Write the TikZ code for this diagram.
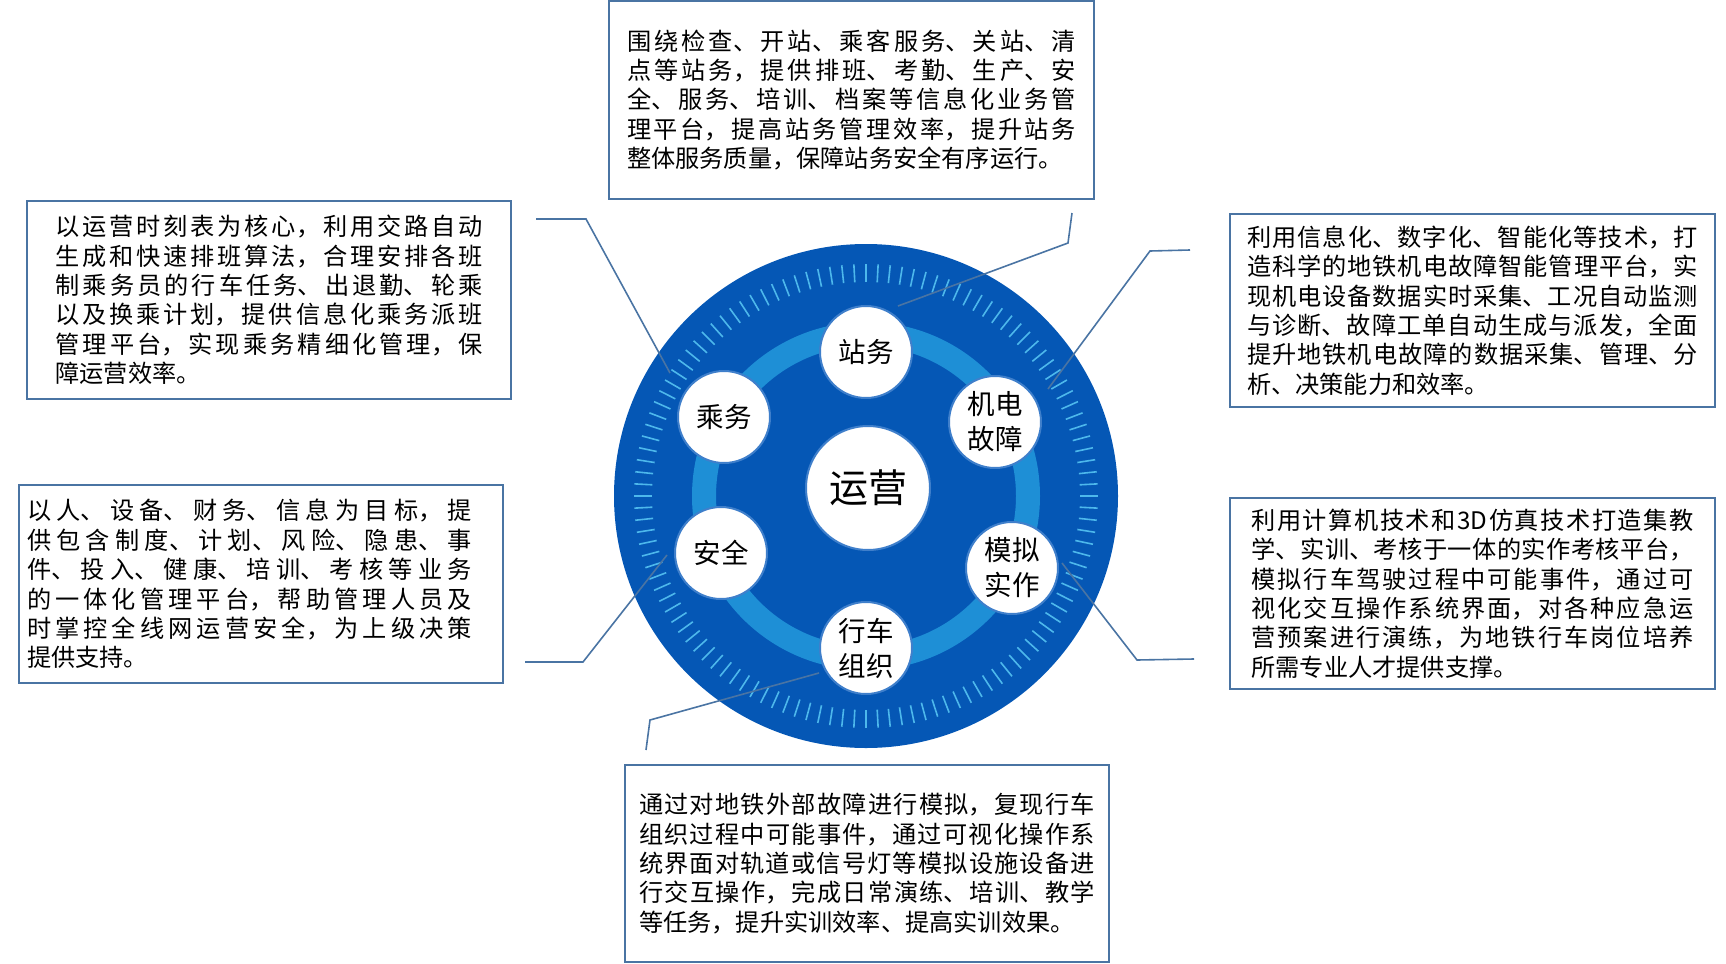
\documentclass[tikz,border=0pt]{standalone}
\usepackage{fontspec}
\setmainfont{Noto Sans CJK SC}
\XeTeXlinebreaklocale "zh"
\XeTeXlinebreakskip = 0pt plus 4pt
\definecolor{discblue}{HTML}{0557B5}
\definecolor{ringblue}{HTML}{1E8FD6}
\definecolor{tickblue}{HTML}{4DB8EC}
\definecolor{lineblue}{HTML}{4A74A3}
\definecolor{satedge}{HTML}{3F7FCB}

\begin{document}
\begin{tikzpicture}[x=0.5pt,y=-0.5pt]
\tikzset{disc/.style = {shape=circle,fill=discblue,minimum size=252pt,inner sep=0pt}}
\tikzset{ring/.style = {draw=ringblue,line width=12pt}}
\tikzset{tickmark/.style = {draw=tickblue,line width=0.8pt}}
\tikzset{sat/.style = {shape=circle,draw=satedge,fill=white,line width=1pt,minimum size=46pt,inner sep=0pt,align=center,font=\fontsize{13.75pt}{17.5pt}\selectfont}}
\tikzset{hub/.style = {sat,minimum size=62pt,font=\fontsize{19.5pt}{22pt}\selectfont}}
\tikzset{desc/.style = {draw=lineblue,line width=1pt,align=justify,inner sep=0pt,font=\fontsize{12.1pt}{14.7pt}\selectfont}}
\tikzset{link/.style = {draw=lineblue,line width=0.8pt}}
\useasboundingbox (0,0) rectangle (1726,964);
% disc
\node[disc] (disc) at (866,496) {};
\draw[ring] (disc.center) circle[radius=81pt];
\foreach \a in {0,3,...,357}
  \draw[tickmark, shift={(disc.center)}] (\a:107pt) -- (\a:116pt);
%edges
\coordinate (zw1) at (1072,213);
\coordinate (zw2) at (1068,243);
\coordinate (zw3) at (898,306);
\coordinate (cw1) at (536,219);
\coordinate (cw2) at (586,219);
\coordinate (cw3) at (670,373);
\coordinate (jd1) at (1190,250);
\coordinate (jd2) at (1150,251);
\coordinate (jd3) at (1048,389);
\coordinate (aq1) at (525,662);
\coordinate (aq2) at (583,662);
\coordinate (aq3) at (667,555);
\coordinate (mn1) at (1194,659);
\coordinate (mn2) at (1137,660);
\coordinate (mn3) at (1062,563);
\coordinate (xc1) at (646,750);
\coordinate (xc2) at (650,720);
\coordinate (xc3) at (819,673);
\draw[link] (zw1) -- (zw2) -- (zw3);
\draw[link] (cw1) -- (cw2) -- (cw3);
\draw[link] (jd1) -- (jd2) -- (jd3);
\draw[link] (aq1) -- (aq2) -- (aq3);
\draw[link] (mn1) -- (mn2) -- (mn3);
\draw[link] (xc1) -- (xc2) -- (xc3);
% vertices
\node[sat] (zhanwu)  at (866,352)  {站务};
\node[sat] (jidian)  at (995,422)  {机电\\故障};
\node[sat] (moni)    at (1012,568) {模拟\\实作};
\node[sat] (xingche) at (866,648)  {行车\\组织};
\node[sat] (anquan)  at (721,553)  {安全};
\node[sat] (chengwu) at (724,417)  {乘务};
\node[hub] (yunying) at (868,488)  {运营};
% boxes
\node[desc,text width=224.5pt,minimum width=242.5pt,minimum height=99pt] (boxzw) at (851.5,100) {围绕检查、开站、乘客服务、关站、清\linebreak
点等站务，提供排班、考勤、生产、安\linebreak
全、服务、培训、档案等信息化业务管\linebreak
理平台，提高站务管理效率，提升站务\linebreak
整体服务质量，保障站务安全有序运行。};
\node[desc,text width=213.5pt,minimum width=242pt,minimum height=99pt] (boxcw) at (269,300) {以运营时刻表为核心，利用交路自动\linebreak
生成和快速排班算法，合理安排各班\linebreak
制乘务员的行车任务、出退勤、轮乘\linebreak
以及换乘计划，提供信息化乘务派班\linebreak
管理平台，实现乘务精细化管理，保\linebreak
障运营效率。};
\node[desc,text width=234pt,minimum width=242pt,minimum height=99pt] (boxaq) at (261,584) {\begin{minipage}{222.5pt}
以人、设备、财务、信息为目标，提\linebreak
供包含制度、计划、风险、隐患、事\linebreak
件、投入、健康、培训、考核等业务\linebreak
的一体化管理平台，帮助管理人员及\linebreak
时掌控全线网运营安全，为上级决策\linebreak
提供支持。\end{minipage}};
\node[desc,text width=225.5pt,minimum width=242.5pt,minimum height=96.5pt] (boxjd) at (1472.5,310.5) {利用信息化、数字化、智能化等技术，打\linebreak
造科学的地铁机电故障智能管理平台，实\linebreak
现机电设备数据实时采集、工况自动监测\linebreak
与诊断、故障工单自动生成与派发，全面\linebreak
提升地铁机电故障的数据采集、管理、分\linebreak
析、决策能力和效率。};
\node[desc,text width=221pt,minimum width=242.5pt,minimum height=95.5pt] (boxmn) at (1472.5,593.5) {利用计算机技术和3D仿真技术打造集教\linebreak
学、实训、考核于一体的实作考核平台，\linebreak
模拟行车驾驶过程中可能事件，通过可\linebreak
视化交互操作系统界面，对各种应急运\linebreak
营预案进行演练，为地铁行车岗位培养\linebreak
所需专业人才提供支撑。};
\node[desc,text width=228pt,minimum width=242pt,minimum height=98.5pt] (boxxc) at (867,863.5) {通过对地铁外部故障进行模拟，复现行车\linebreak
组织过程中可能事件，通过可视化操作系\linebreak
统界面对轨道或信号灯等模拟设施设备进\linebreak
行交互操作，完成日常演练、培训、教学\linebreak
等任务，提升实训效率、提高实训效果。};
\end{tikzpicture}
\end{document}
